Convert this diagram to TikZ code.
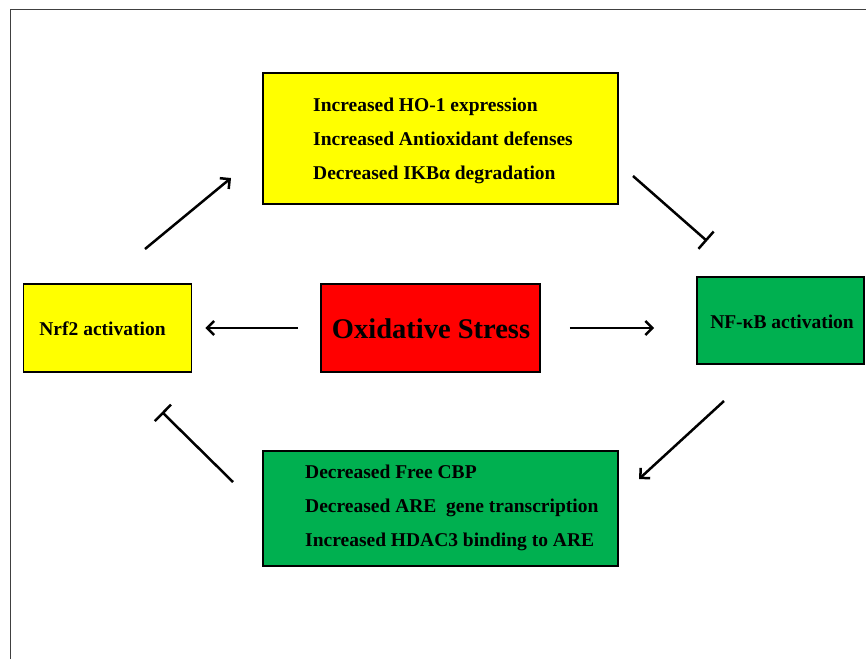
\documentclass[tikz,border=0pt]{standalone}
\usepackage{fontspec}
\setmainfont{Liberation Serif}
\usetikzlibrary{positioning}
\usetikzlibrary{arrows.meta}
\usetikzlibrary{calc}

\definecolor{boxyellow}{HTML}{FFFF00}
\definecolor{boxred}{HTML}{FF0000}
\definecolor{boxgreen}{HTML}{00B050}

\begin{document}
\begin{tikzpicture}[x=1pt, y=-1pt,
		box/.style={draw=black, line width=1.8pt, inner sep=0pt},
		lbl/.style={font=\fontsize{19.5}{34}\selectfont\bfseries, align=left, inner sep=0pt},
		arr/.style={line width=2.5pt, -{Straight Barb[length=7pt,width=14pt]}},
		inh/.style={line width=2.5pt, -{Bar[width=23pt]}}]
			\useasboundingbox (0,0) rectangle (866,659);
			%\draw[step=50,gray,very thin] (0,0) grid (866,659);
			\draw[black!75, line width=1.3pt] (10.5,659) -- (10.5,9.5) -- (866,9.5);
			% boxes
			\node[box, fill=boxyellow, minimum width=355pt, minimum height=131pt] (gain) at (440.5,138.5) {};
			\node[box, fill=boxyellow, minimum width=168pt, minimum height=88pt] (nrf) at (107.5,328) {};
			\node[box, fill=boxred, minimum width=219pt, minimum height=88pt] (ox) at (430.5,328) {};
			\node[box, fill=boxgreen, minimum width=167pt, minimum height=87pt] (nfkb) at (780.5,320.5) {};
			\node[box, fill=boxgreen, minimum width=355pt, minimum height=115pt] (loss) at (440.5,508.5) {};
			% texts
			\node[lbl, anchor=west] (gaintxt) at (313,141) {Increased HO-1 expression\\Increased Antioxidant defenses\\Decreased IKBα degradation};
			\node[lbl, anchor=west] (losstxt) at (305,508) {Decreased Free CBP\\Decreased ARE\ \ gene transcription\\Increased HDAC3 binding to ARE};
			\node[lbl] (nrftxt) at (102.5,329) {Nrf2 activation};
			\node[lbl] (nfkbtxt) at (782,322) {NF-κB activation};
			\node[font=\fontsize{28.5}{34}\selectfont\bfseries, inner sep=0pt] (oxtxt) at (431,329) {Oxidative Stress};
			% connector ends
			\coordinate (c1a) at (145,249);
			\coordinate (c1b) at (231,178);
			\coordinate (c2a) at (633,176);
			\coordinate (c2b) at (707,241);
			\coordinate (c3a) at (724,401);
			\coordinate (c3b) at (639,479);
			\coordinate (c4a) at (233,482);
			\coordinate (c4b) at (162,412);
			% connectors
			\draw[arr] (c1a) -- (c1b);
			\draw[inh] (c2a) -- (c2b);
			\draw[arr] (c3a) -- (c3b);
			\draw[inh] (c4a) -- (c4b);
			\draw[arr, shorten <=22pt, shorten >=13pt] (ox.west) -- (nrf.east);
			\draw[arr, shorten <=29pt, shorten >=42pt] (ox.east) -- (ox.east -| nfkb.west);
		\end{tikzpicture}
\end{document}
